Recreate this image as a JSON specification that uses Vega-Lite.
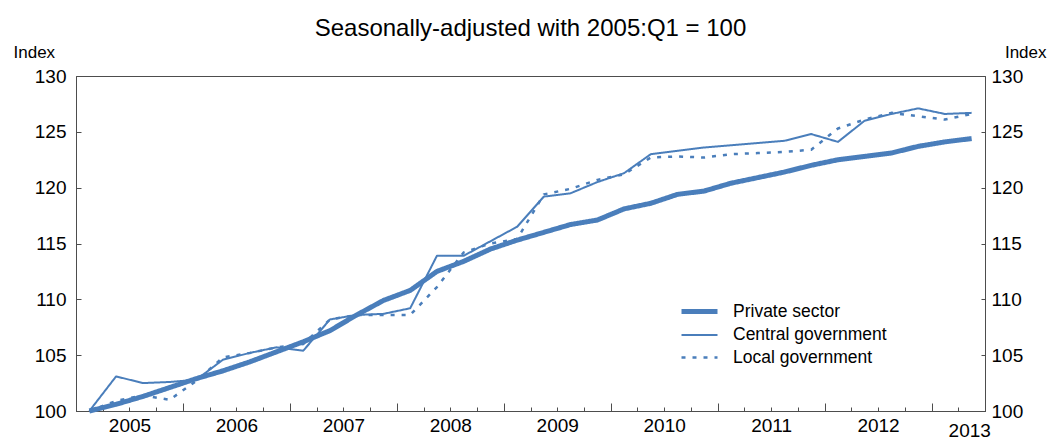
{
  "$schema": "https://vega.github.io/schema/vega-lite/v6.json",
  "width": 909,
  "height": 335,
  "autosize": {"type": "none"},
  "padding": {"left": 76, "top": 76, "right": 65, "bottom": 29},
  "background": "white",
  "config": {
    "font": "Liberation Sans",
    "view": {"stroke": "#4d4d4d", "strokeWidth": 1},
    "axis": {"grid": false, "domainColor": "#4d4d4d", "tickColor": "#4d4d4d", "labelColor": "black", "titleColor": "black", "labelFont": "Liberation Sans", "titleFont": "Liberation Sans", "labelFontSize": 19, "titleFontSize": 17, "titleFontWeight": "normal"}
  },
  "title": {"text": "Seasonally-adjusted with 2005:Q1 = 100", "fontSize": 24, "fontWeight": "normal", "font": "Liberation Sans", "color": "black", "anchor": "middle", "frame": "group", "offset": 2},
  "data": {"values": [
    {"q": "2005Q1", "t": 2005.125, "Private sector": 100.0, "Central government": 100.0, "Local government": 100.0},
    {"q": "2005Q2", "t": 2005.375, "Private sector": 100.6, "Central government": 103.1, "Local government": 100.9},
    {"q": "2005Q3", "t": 2005.625, "Private sector": 101.3, "Central government": 102.5, "Local government": 101.4},
    {"q": "2005Q4", "t": 2005.875, "Private sector": 102.1, "Central government": 102.6, "Local government": 101.0},
    {"q": "2006Q1", "t": 2006.125, "Private sector": 102.9, "Central government": 102.8, "Local government": 102.7},
    {"q": "2006Q2", "t": 2006.375, "Private sector": 103.6, "Central government": 104.6, "Local government": 104.8},
    {"q": "2006Q3", "t": 2006.625, "Private sector": 104.4, "Central government": 105.2, "Local government": 105.2},
    {"q": "2006Q4", "t": 2006.875, "Private sector": 105.3, "Central government": 105.7, "Local government": 105.7},
    {"q": "2007Q1", "t": 2007.125, "Private sector": 106.2, "Central government": 105.4, "Local government": 106.0},
    {"q": "2007Q2", "t": 2007.375, "Private sector": 107.2, "Central government": 108.2, "Local government": 108.2},
    {"q": "2007Q3", "t": 2007.625, "Private sector": 108.6, "Central government": 108.6, "Local government": 108.6},
    {"q": "2007Q4", "t": 2007.875, "Private sector": 109.9, "Central government": 108.7, "Local government": 108.6},
    {"q": "2008Q1", "t": 2008.125, "Private sector": 110.8, "Central government": 109.2, "Local government": 108.6},
    {"q": "2008Q2", "t": 2008.375, "Private sector": 112.5, "Central government": 113.9, "Local government": 111.1},
    {"q": "2008Q3", "t": 2008.625, "Private sector": 113.4, "Central government": 113.9, "Local government": 114.2},
    {"q": "2008Q4", "t": 2008.875, "Private sector": 114.5, "Central government": 115.2, "Local government": 115.0},
    {"q": "2009Q1", "t": 2009.125, "Private sector": 115.3, "Central government": 116.5, "Local government": 115.4},
    {"q": "2009Q2", "t": 2009.375, "Private sector": 116.0, "Central government": 119.2, "Local government": 119.4},
    {"q": "2009Q3", "t": 2009.625, "Private sector": 116.7, "Central government": 119.5, "Local government": 119.9},
    {"q": "2009Q4", "t": 2009.875, "Private sector": 117.1, "Central government": 120.5, "Local government": 120.7},
    {"q": "2010Q1", "t": 2010.125, "Private sector": 118.1, "Central government": 121.3, "Local government": 121.2},
    {"q": "2010Q2", "t": 2010.375, "Private sector": 118.6, "Central government": 123.0, "Local government": 122.7},
    {"q": "2010Q3", "t": 2010.625, "Private sector": 119.4, "Central government": 123.3, "Local government": 122.8},
    {"q": "2010Q4", "t": 2010.875, "Private sector": 119.7, "Central government": 123.6, "Local government": 122.7},
    {"q": "2011Q1", "t": 2011.125, "Private sector": 120.4, "Central government": 123.8, "Local government": 123.0},
    {"q": "2011Q2", "t": 2011.375, "Private sector": 120.9, "Central government": 124.0, "Local government": 123.1},
    {"q": "2011Q3", "t": 2011.625, "Private sector": 121.4, "Central government": 124.2, "Local government": 123.2},
    {"q": "2011Q4", "t": 2011.875, "Private sector": 122.0, "Central government": 124.8, "Local government": 123.4},
    {"q": "2012Q1", "t": 2012.125, "Private sector": 122.5, "Central government": 124.1, "Local government": 125.3},
    {"q": "2012Q2", "t": 2012.375, "Private sector": 122.8, "Central government": 126.0, "Local government": 126.1},
    {"q": "2012Q3", "t": 2012.625, "Private sector": 123.1, "Central government": 126.6, "Local government": 126.7},
    {"q": "2012Q4", "t": 2012.875, "Private sector": 123.7, "Central government": 127.1, "Local government": 126.4},
    {"q": "2013Q1", "t": 2013.125, "Private sector": 124.1, "Central government": 126.6, "Local government": 126.1},
    {"q": "2013Q2", "t": 2013.375, "Private sector": 124.4, "Central government": 126.7, "Local government": 126.6}
  ]},
  "transform": [{"fold": ["Local government", "Central government", "Private sector"], "as": ["series", "v"]}],
  "layer": [
    {
      "mark": {"type": "line", "color": "#4a7ebb", "strokeJoin": "round"},
      "encoding": {
        "x": {
          "field": "t", "type": "quantitative",
          "scale": {"domain": [2005, 2013.5], "nice": false, "zero": false},
          "axis": {
            "title": null,
            "values": [2005, 2005.25, 2005.5, 2005.75, 2006, 2006.25, 2006.5, 2006.75, 2007, 2007.25, 2007.5, 2007.75, 2008, 2008.25, 2008.5, 2008.75, 2009, 2009.25, 2009.5, 2009.75, 2010, 2010.25, 2010.5, 2010.75, 2011, 2011.25, 2011.5, 2011.75, 2012, 2012.25, 2012.5, 2012.75, 2013, 2013.25, 2013.5],
            "labelExpr": "(datum.value % 1 == 0.5 && datum.value < 2013) ? toString(floor(datum.value)) : (datum.value == 2013.25 ? '2013' : '')",
            "labelOverlap": false,
            "labelBound": false,
            "labelFlush": false,
            "tickSize": {"condition": {"test": "datum.value % 1 == 0", "value": -8}, "value": -4},
            "labelOffset": {"condition": {"test": "datum.value == 2013.25", "value": 11}, "value": 0},
            "labelPadding": {"condition": {"test": "datum.value == 2013.25", "value": 14}, "value": 9}
          }
        },
        "y": {
          "field": "v", "type": "quantitative",
          "scale": {"domain": [100, 130], "nice": false, "zero": false},
          "axis": {"orient": "left", "values": [100, 105, 110, 115, 120, 125, 130], "tickSize": -5, "labelPadding": 15, "title": "Index", "titleAngle": 0, "titleAlign": "left", "titleBaseline": "alphabetic", "titleX": -63, "titleY": -19}
        },
        "strokeWidth": {
          "field": "series", "type": "nominal",
          "scale": {"type": "ordinal", "domain": ["Private sector", "Central government", "Local government"], "range": [5, 2, 2.5]},
          "legend": {"title": null, "orient": "none", "legendX": 612, "legendY": 224, "labelFontSize": 17.5, "labelFont": "Liberation Sans", "labelColor": "black", "symbolType": "M-2,0L2,0", "symbolSize": 324, "symbolStrokeColor": "#4a7ebb", "rowPadding": 3, "labelOffset": 22, "padding": 0}
        },
        "strokeDash": {
          "field": "series", "type": "nominal",
          "scale": {"domain": ["Private sector", "Central government", "Local government"], "range": [[1, 0], [1, 0], [4, 7]]},
          "legend": {"title": null, "orient": "none", "legendX": 612, "legendY": 224, "labelFontSize": 17.5, "labelFont": "Liberation Sans", "labelColor": "black", "symbolType": "M-2,0L2,0", "symbolSize": 324, "symbolStrokeColor": "#4a7ebb", "rowPadding": 3, "labelOffset": 22, "padding": 0}
        }
      }
    },
    {
      "mark": {"type": "rule", "opacity": 0},
      "encoding": {
        "y": {
          "field": "v", "type": "quantitative",
          "axis": {"orient": "right", "values": [100, 105, 110, 115, 120, 125, 130], "tickSize": -4, "labelPadding": 10, "title": "Index", "titleAngle": 0, "titleAlign": "right", "titleBaseline": "alphabetic", "titleX": 61, "titleY": -19}
        }
      }
    }
  ],
  "resolve": {"axis": {"y": "independent"}}
}
